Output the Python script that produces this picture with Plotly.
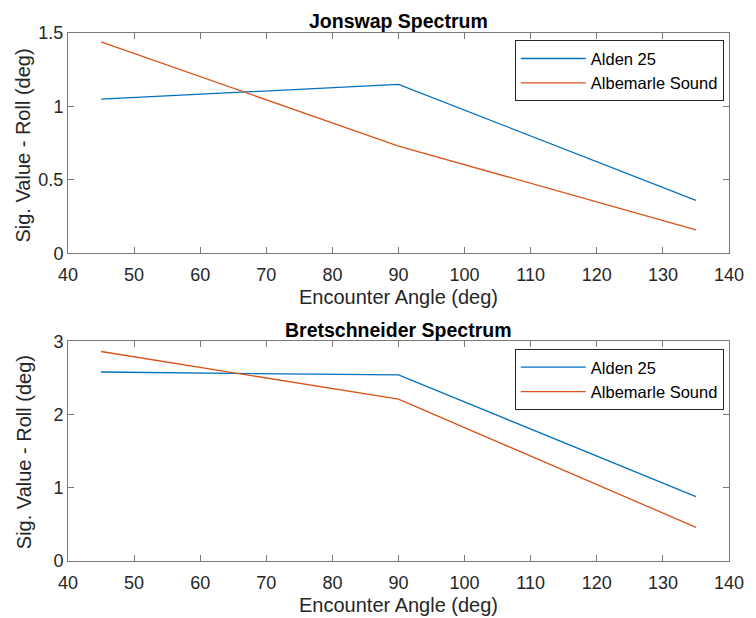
import plotly.graph_objects as go

# Encounter angles (deg)
angles = [45, 90, 135]

# Significant roll amplitude (deg), JONSWAP spectrum
jonswap_alden = [1.05, 1.15, 0.36]
jonswap_albemarle = [1.44, 0.73, 0.16]

# Significant roll amplitude (deg), Bretschneider spectrum
bret_alden = [2.58, 2.54, 0.88]
bret_albemarle = [2.86, 2.21, 0.46]

x_ticks = [40, 50, 60, 70, 80, 90, 100, 110, 120, 130, 140]
y_ticks_top = [0, 0.5, 1, 1.5]
y_ticks_bot = [0, 1, 2, 3]

BLUE = "#0072BD"
ORANGE = "#D95319"
FONT = "Liberation Sans, Arial, sans-serif"
TXT = "#262626"
AX = "#7a7a7a"

W, H = 756, 618
ml, mr, mt, mb = 68.3, 16.7, 32.7, 56.7
pw = W - ml - mr
ph = H - mt - mb


def py(pix):
    """Pixel row -> paper fraction."""
    return (H - mb - pix) / ph


def px(pix):
    """Pixel column -> paper fraction."""
    return (pix - ml) / pw


fig = go.Figure()

fig.add_trace(go.Scatter(x=angles, y=jonswap_alden, mode="lines", name="Alden 25",
                         line=dict(color=BLUE, width=1.3), xaxis="x", yaxis="y",
                         legend="legend"))
fig.add_trace(go.Scatter(x=angles, y=jonswap_albemarle, mode="lines", name="Albemarle Sound",
                         line=dict(color=ORANGE, width=1.3), xaxis="x", yaxis="y",
                         legend="legend"))
fig.add_trace(go.Scatter(x=angles, y=bret_alden, mode="lines", name="Alden 25",
                         line=dict(color=BLUE, width=1.3), xaxis="x2", yaxis="y2",
                         legend="legend2"))
fig.add_trace(go.Scatter(x=angles, y=bret_albemarle, mode="lines", name="Albemarle Sound",
                         line=dict(color=ORANGE, width=1.3), xaxis="x2", yaxis="y2",
                         legend="legend2"))

axis_common = dict(
    showline=True, linecolor=AX, linewidth=1, mirror="ticks",
    ticks="inside", ticklen=6, tickcolor=AX, tickwidth=1,
    showgrid=False, zeroline=False,
    tickfont=dict(family=FONT, size=18, color=TXT),
)

top_dom = [py(253.3), 1.0]
bot_dom = [0.0, py(341.3)]

legend_common = dict(
    xanchor="right", yanchor="top",
    bgcolor="white", bordercolor=TXT, borderwidth=1,
    font=dict(family=FONT, size=16.5, color="#000000"),
    itemwidth=65, tracegroupgap=0,
)

fig.update_layout(
    width=W, height=H,
    margin=dict(l=ml, r=mr, t=mt, b=mb),
    paper_bgcolor="white", plot_bgcolor="white",
    font=dict(family=FONT, color=TXT),
    xaxis=dict(domain=[0, 1], range=[40, 140], tickvals=x_ticks, anchor="y",
               ticklabelstandoff=5, **axis_common),
    yaxis=dict(domain=top_dom, range=[0, 1.5], tickvals=y_ticks_top,
               ticktext=["0", "0.5", "1", "1.5"], anchor="x", **axis_common),
    xaxis2=dict(domain=[0, 1], range=[40, 140], tickvals=x_ticks, anchor="y2",
                ticklabelstandoff=5, **axis_common),
    yaxis2=dict(domain=bot_dom, range=[0, 3], tickvals=y_ticks_bot, anchor="x2", **axis_common),
    legend=dict(x=px(734), y=py(40), **legend_common),
    legend2=dict(x=px(734), y=py(349), **legend_common),
    showlegend=True,
)

ann = []
mid_x = 0.5
common_ann = dict(xref="paper", yref="paper", showarrow=False,
                  xanchor="center", yanchor="middle")
# Titles
ann.append(dict(text="<b>Jonswap Spectrum</b>", x=mid_x, y=py(21),
                font=dict(size=19.5, color="#000000"), **common_ann))
ann.append(dict(text="<b>Bretschneider Spectrum</b>", x=mid_x, y=py(330),
                font=dict(size=19.5, color="#000000"), **common_ann))
# X axis titles
for yy in (297, 605):
    ann.append(dict(text="Encounter Angle (deg)", x=mid_x, y=py(yy),
                    font=dict(size=20, color=TXT), **common_ann))
# Y axis titles
for yy in (145, 452):
    ann.append(dict(text="Sig. Value - Roll (deg)", x=px(23), y=py(yy), textangle=-90,
                    font=dict(size=20, color=TXT), **common_ann))
fig.update_layout(annotations=ann)

fig.write_html("out.html")
